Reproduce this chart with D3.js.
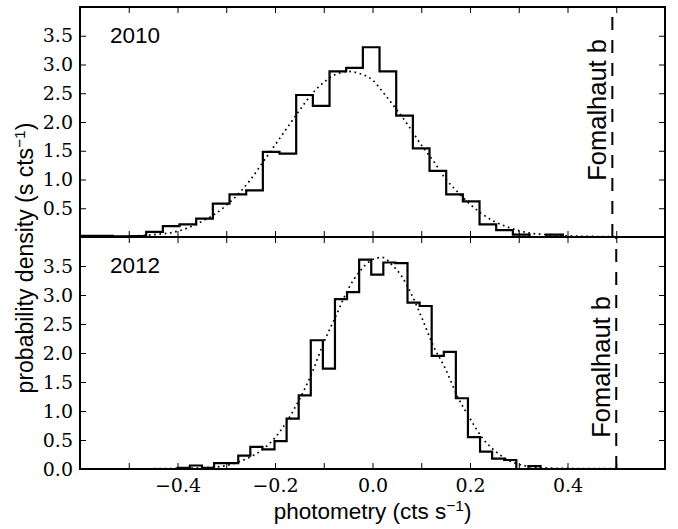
<!DOCTYPE html>
<html>
<head>
<meta charset="utf-8">
<script src="https://cdn.jsdelivr.net/npm/d3@7"></script>
<style>
  html, body { margin: 0; padding: 0; background: #fff; }
  svg { display: block; }
  .ticklab { font-family: 'DejaVu Serif', 'Liberation Serif', serif; font-size: 19px; fill: #000; }
</style>
</head>
<body>
<svg id="chart" width="678" height="529"></svg>
<script>
// ---------- data ----------
const xDomain = [-0.6, 0.6];
const yDomain = [0, 4];
const xTickValues = [-0.5, -0.4, -0.3, -0.2, -0.1, 0.0, 0.1, 0.2, 0.3, 0.4, 0.5];
const xTickLabels = ["", "\u22120.4", "", "\u22120.2", "", "0.0", "", "0.2", "", "0.4", ""];
const yTickValues2010 = [0.5, 1.0, 1.5, 2.0, 2.5, 3.0, 3.5];
const yTickValues2012 = [0.0, 0.5, 1.0, 1.5, 2.0, 2.5, 3.0, 3.5];
const yearLabels = ["2010", "2012"];

// histogram 2010 (bin start, bin width, densities)
const hist2010Start = -0.601;
const hist2010Width = 0.03419;
const hist2010Values = [0.02, 0.02, 0.01, 0.015, 0.09, 0.19, 0.22, 0.32, 0.58, 0.74,
  0.81, 1.48, 1.45, 2.47, 2.28, 2.88, 2.94, 3.30, 2.88, 2.11,
  1.54, 1.15, 0.74, 0.62, 0.22, 0.12, 0.04, 0.0, 0.04];

// histogram 2012
const hist2012Start = -0.3994;
const hist2012Width = 0.0248;
const hist2012Values = [0.02, 0.06, 0.02, 0.10, 0.10, 0.23, 0.38, 0.34, 0.48, 0.87,
  1.27, 2.22, 1.73, 2.93, 3.05, 3.61, 3.35, 3.56, 3.55, 2.87,
  2.81, 1.95, 2.02, 1.22, 0.55, 0.30, 0.18, 0.155, 0.0, 0.05];

// dotted fit curves (x, density)
const fit2010X = [-0.60, -0.55, -0.50, -0.45, -0.40, -0.375, -0.35, -0.325, -0.30, -0.275,
  -0.25, -0.225, -0.20, -0.175, -0.15, -0.125, -0.10, -0.075, -0.05, -0.025,
  0.0, 0.025, 0.05, 0.075, 0.10, 0.125, 0.15, 0.175, 0.20, 0.225,
  0.25, 0.275, 0.30, 0.325, 0.35, 0.40, 0.45, 0.50, 0.60];
const fit2010Y = [0.0, 0.005, 0.015, 0.04, 0.10, 0.17, 0.27, 0.39, 0.55, 0.75,
  1.00, 1.30, 1.60, 1.90, 2.20, 2.48, 2.69, 2.83, 2.88, 2.84,
  2.73, 2.48, 2.21, 1.92, 1.60, 1.32, 1.01, 0.78, 0.57, 0.40,
  0.27, 0.18, 0.11, 0.065, 0.045, 0.02, 0.01, 0.005, 0.0];

const fit2012X = [-0.60, -0.45, -0.40, -0.35, -0.325, -0.30, -0.275, -0.25, -0.225, -0.20,
  -0.175, -0.15, -0.125, -0.10, -0.075, -0.05, -0.025, 0.0, 0.02, 0.04,
  0.06, 0.08, 0.10, 0.125, 0.15, 0.175, 0.20, 0.225, 0.25, 0.275,
  0.30, 0.325, 0.35, 0.40, 0.50, 0.60];
const fit2012Y = [0.0, 0.005, 0.01, 0.02, 0.03, 0.06, 0.12, 0.21, 0.34, 0.54,
  0.83, 1.20, 1.64, 2.18, 2.64, 3.10, 3.42, 3.61, 3.65, 3.52,
  3.32, 3.01, 2.63, 2.12, 1.72, 1.24, 0.87, 0.54, 0.32, 0.17,
  0.08, 0.04, 0.02, 0.01, 0.005, 0.0];

// Fomalhaut b marker positions (x) and label centre heights (density units)
const fomalhautX = [0.492, 0.500];
const fomalhautLabelY = [2.21, 1.76];
const fomalhautLabel = "Fomalhaut b";

// ---------- layout ----------
const left = 80, right = 665;
const panels = [
  { top: 7, bottom: 237, year: yearLabels[0], start: hist2010Start, width: hist2010Width, values: hist2010Values,
    fitX: fit2010X, fitY: fit2010Y, yTicks: yTickValues2010, fx: fomalhautX[0], fy: fomalhautLabelY[0], showX: false },
  { top: 237, bottom: 469, year: yearLabels[1], start: hist2012Start, width: hist2012Width, values: hist2012Values,
    fitX: fit2012X, fitY: fit2012Y, yTicks: yTickValues2012, fx: fomalhautX[1], fy: fomalhautLabelY[1], showX: true }
];

const svg = d3.select("#chart");
const x = d3.scaleLinear().domain(xDomain).range([left, right]);
const sans = "'Liberation Sans', Arial, Helvetica, sans-serif";

panels.forEach((p, i) => {
  const y = d3.scaleLinear().domain(yDomain).range([p.bottom, p.top]);
  const g = svg.append("g");
  const clipId = "clip" + i;
  svg.append("clipPath").attr("id", clipId).append("rect")
    .attr("x", left).attr("y", p.top).attr("width", right - left).attr("height", p.bottom - p.top);

  // histogram outline (closed step polygon)
  const edges = d3.range(p.values.length + 1).map(k => p.start + k * p.width);
  const pts = [[edges[0], 0]];
  p.values.forEach((v, k) => { pts.push([edges[k], v]); pts.push([edges[k + 1], v]); });
  pts.push([edges[edges.length - 1], 0]);
  const histLine = d3.line().x(d => x(d[0])).y(d => y(d[1]));
  g.append("path").attr("clip-path", `url(#${clipId})`)
    .attr("d", histLine(pts) + "Z")
    .attr("fill", "none").attr("stroke", "#000").attr("stroke-width", 2.2)
    .attr("stroke-linejoin", "miter");

  // dotted fit
  const fitLine = d3.line().x(d => x(d[0])).y(d => y(d[1])).curve(d3.curveMonotoneX);
  g.append("path").attr("clip-path", `url(#${clipId})`)
    .attr("d", fitLine(p.fitX.map((v, k) => [v, p.fitY[k]])))
    .attr("fill", "none").attr("stroke", "#000").attr("stroke-width", 1.7)
    .attr("stroke-dasharray", "1.7,3.6");

  // dashed Fomalhaut b line (drawn from bottom to top)
  g.append("line")
    .attr("x1", x(p.fx)).attr("x2", x(p.fx))
    .attr("y1", y(yDomain[0])).attr("y2", y(yDomain[1]))
    .attr("stroke", "#000").attr("stroke-width", 2)
    .attr("stroke-dasharray", "13,10");

  g.append("text")
    .attr("transform", `translate(${x(p.fx) - 6},${y(p.fy)}) rotate(-90)`)
    .attr("text-anchor", "middle")
    .style("font-family", sans).style("font-size", "25.5px")
    .attr("fill", "#000")
    .text(fomalhautLabel);

  // year label
  g.append("text").attr("x", 110).attr("y", p.top + 35.5)
    .style("font-family", sans).style("font-size", "22.5px").attr("fill", "#000")
    .text(p.year);

  // axes (ticks inward)
  const axB = d3.axisBottom(x).tickValues(xTickValues).tickSizeInner(-6).tickSizeOuter(0).tickPadding(10)
    .tickFormat((d, k) => p.showX ? xTickLabels[k] : "");
  const axT = d3.axisTop(x).tickValues(xTickValues).tickSizeInner(-6).tickSizeOuter(0).tickFormat("");
  const axL = d3.axisLeft(y).tickValues(p.yTicks).tickSizeInner(-6).tickSizeOuter(0).tickPadding(7)
    .tickFormat(d3.format(".1f"));
  const axR = d3.axisRight(y).tickValues(p.yTicks).tickSizeInner(-6).tickSizeOuter(0).tickFormat("");

  const styleAxis = sel => {
    sel.attr("font-family", null).attr("font-size", null);
    sel.select(".domain").remove();
    sel.selectAll(".tick line").attr("stroke", "#000").attr("stroke-width", 1);
    sel.selectAll(".tick text").attr("class", "ticklab");
  };
  g.append("g").attr("transform", `translate(0,${p.bottom})`).call(axB).call(styleAxis);
  g.append("g").attr("transform", `translate(0,${p.top})`).call(axT).call(styleAxis);
  g.append("g").attr("transform", `translate(${left},0)`).call(axL).call(styleAxis);
  g.append("g").attr("transform", `translate(${right},0)`).call(axR).call(styleAxis);

  // frame
  g.append("rect").attr("x", left).attr("y", p.top)
    .attr("width", right - left).attr("height", p.bottom - p.top)
    .attr("fill", "none").attr("stroke", "#000").attr("stroke-width", 2);
});

// axis titles
const xt = svg.append("text").attr("x", (left + right) / 2).attr("y", 519)
  .attr("text-anchor", "middle").style("font-family", sans).style("font-size", "22.5px").attr("fill", "#000");
xt.append("tspan").text("photometry (cts s");
xt.append("tspan").attr("dy", -8).style("font-size", "15.5px").text("\u22121");
xt.append("tspan").attr("dy", 8).text(")");

const yt = svg.append("text").attr("transform", "translate(33,258) rotate(-90)")
  .attr("text-anchor", "middle").style("font-family", sans).style("font-size", "23px").attr("fill", "#000");
yt.append("tspan").text("probability density (s cts");
yt.append("tspan").attr("dy", -8).style("font-size", "15.5px").text("\u22121");
yt.append("tspan").attr("dy", 8).text(")");
</script>
</body>
</html>
